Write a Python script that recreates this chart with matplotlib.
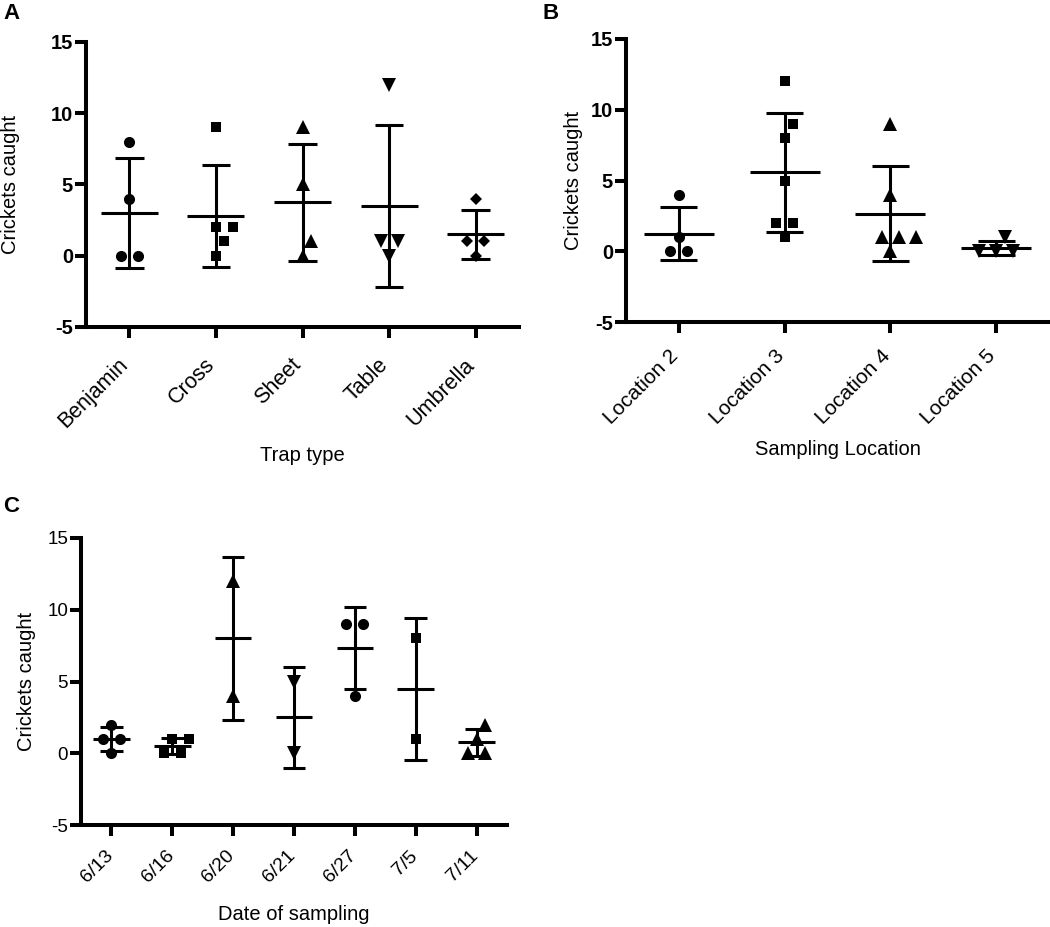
import matplotlib
matplotlib.use("Agg")
import matplotlib.pyplot as plt
import numpy as np

plt.rcParams['font.family'] = ['Liberation Sans', 'DejaVu Sans']
plt.rcParams['axes.unicode_minus'] = False

# ---------------- data ----------------
trap_types = ["Benjamin", "Cross", "Sheet", "Table", "Umbrella"]
trap_counts = [[8, 4, 0, 0], [9, 2, 2, 1, 0], [9, 5, 1, 0], [12, 1, 0, 1], [4, 1, 1, 0]]

locations = ["Location 2", "Location 3", "Location 4", "Location 5"]
location_counts = [[4, 1, 0, 0], [12, 9, 8, 5, 2, 2, 1], [9, 4, 1, 0, 1, 1], [1, 0, 0, 0]]

dates = ["6/13", "6/16", "6/20", "6/21", "6/27", "7/5", "7/11"]
date_counts = [[2, 1, 1, 0], [1, 1, 0, 0], [12, 4], [5, 0], [9, 9, 4], [8, 1], [2, 1, 0, 0]]

y_ticks = [-5, 0, 5, 10, 15]

# ---------------- style ----------------
markers_A = ['o', 's', '^', 'v', 'D']
markers_B = ['o', 's', '^', 'v']
markers_C = ['o', 's', '^', 'v', 'o', 's', '^']
msize = {'o': 8.0, 's': 7.8, '^': 9.4, 'v': 9.4, 'D': 6.5}

FIG_W, FIG_H = 1050, 927
PT = 72.0 / 100.0  # points per pixel
fig = plt.figure(figsize=(FIG_W / 100, FIG_H / 100), dpi=100)


def px_rect(l, t, r, b):
    return [l / FIG_W, 1 - b / FIG_H, (r - l) / FIG_W, (b - t) / FIG_H]


def swarm(values, ax, ncat, step=8.5, diam=16.0):
    pos = ax.get_position()
    ppx = pos.width * FIG_W / ncat
    ppy = pos.height * FIG_H / 20.0
    values = np.asarray(values, float)
    offs = np.zeros(len(values))
    placed = []
    for v in np.unique(values):
        idx = np.where(values == v)[0]
        n = len(idx)
        base = (np.arange(n) - (n - 1) / 2) * 2 * step
        xs = base
        for k in [0, 1, -1, 2, -2, 3, -3, 4, -4, 5, -5, 6, -6]:
            xs = base + k * step
            ok = all(np.hypot(x - px, (v - pv) * ppy) >= diam
                     for x in xs for (px, pv) in placed)
            if ok:
                break
        for i, x in zip(idx, xs):
            offs[i] = x / ppx
            placed.append((x, v))
    return offs


def panel(ax, cats, groups, markers, xlabel, bold_ticks, mean_w, cap_w,
          ylab_x, xlab_y, cat_size, cat_off, tick_size):
    n = len(cats)
    ax.set_xlim(-0.5, n - 0.5)
    ax.set_ylim(-5, 15)
    for i, (vals, m) in enumerate(zip(groups, markers)):
        vals = np.asarray(vals, float)
        mean = vals.mean()
        sd = vals.std(ddof=1)
        ax.vlines(i, mean - sd, mean + sd, color='black', lw=2.2, zorder=2)
        ax.hlines([mean - sd, mean + sd], i - cap_w / 2, i + cap_w / 2,
                  color='black', lw=2.2, zorder=2)
        ax.hlines(mean, i - mean_w / 2, i + mean_w / 2, color='black', lw=2.2, zorder=2)
        off = swarm(vals, ax, n)
        ax.plot(i + off, vals, linestyle='none', marker=m, ms=msize[m],
                color='black', mec='black', mew=0, zorder=3, clip_on=False)
    for s in ['top', 'right']:
        ax.spines[s].set_visible(False)
    for s in ['left', 'bottom']:
        ax.spines[s].set_linewidth(2.9)
        ax.spines[s].set_capstyle('projecting')
    ax.set_xticks(range(n))
    ax.set_xticklabels([])
    for i, c in enumerate(cats):
        ax.annotate(c, xy=(i, 0), xycoords=ax.get_xaxis_transform(),
                    xytext=(cat_off[0] * PT, -(17.4 + cat_off[1]) * PT),
                    textcoords='offset points', rotation=45, ha='right', va='top',
                    rotation_mode='anchor', fontsize=cat_size, annotation_clip=False)
    ax.set_yticks(y_ticks)
    ax.set_yticklabels([str(t) for t in y_ticks], fontsize=tick_size,
                       fontweight='bold' if bold_ticks else 'normal')
    ax.tick_params(axis='both', length=7.8, width=2.9, color='black')
    ax.tick_params(axis='y', pad=1.5)
    ax.set_ylabel('Crickets caught', fontsize=14.5)
    ax.yaxis.set_label_coords(ylab_x, 0.5)
    ax.set_xlabel(xlabel, fontsize=14.5)
    ax.xaxis.set_label_coords(0.5, xlab_y)
    ax.patch.set_visible(False)


axA = fig.add_axes(px_rect(86, 42, 519, 327))
axB = fig.add_axes(px_rect(626, 39, 1049, 322))
axC = fig.add_axes(px_rect(81, 538, 507, 825))

panel(axA, trap_types, trap_counts, markers_A, 'Trap type', True, 0.66, 0.33,
      -0.152, -0.418, 15.5, (-12, 10), 14.5)
panel(axB, locations, location_counts, markers_B, 'Sampling Location', True, 0.66, 0.35,
      -0.102, -0.417, 15.0, (-10, 7), 14.5)
panel(axC, dates, date_counts, markers_C, 'Date of sampling', False, 0.6, 0.37,
      -0.106, -0.278, 14.0, (-7, 5), 13.5)

fig.text(3 / FIG_W, 1 - 3 / FIG_H, 'A', ha='left', va='top', fontsize=16, fontweight='bold')
fig.text(543 / FIG_W, 1 - 3 / FIG_H, 'B', ha='left', va='top', fontsize=16, fontweight='bold')
fig.text(3 / FIG_W, 1 - 496 / FIG_H, 'C', ha='left', va='top', fontsize=16, fontweight='bold')

fig.savefig('out.png', dpi=100)
